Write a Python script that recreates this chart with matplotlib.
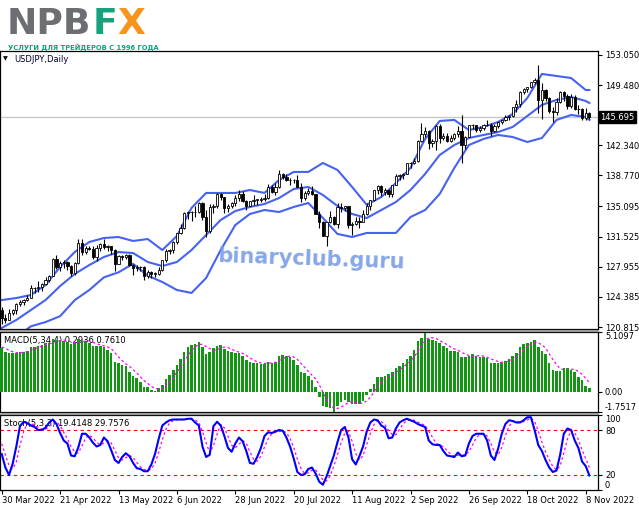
import matplotlib
matplotlib.use("Agg")
import matplotlib.pyplot as plt
from matplotlib.transforms import blended_transform_factory, offset_copy
from matplotlib.lines import Line2D
import numpy as np

# ---------------- data ----------------
opens = [122.8,121.9,121.7,122.5,122.8,123.6,123.8,124.0,124.3,125.4,
         125.4,125.6,125.9,126.4,126.9,128.9,127.9,128.4,128.5,128.1,
         127.2,128.4,130.8,129.7,130.2,130.1,129.1,130.2,130.6,130.3,
         130.4,129.9,128.3,129.2,129.1,129.4,128.2,127.8,127.9,127.9,
         126.9,127.3,127.1,127.1,127.6,128.7,129.8,129.9,130.9,131.9,
         132.6,134.3,134.4,134.4,134.4,135.5,133.9,132.2,135.0,135.1,
         136.6,136.2,134.9,135.2,135.5,136.1,136.6,135.7,135.2,135.7,
         135.9,135.9,136.0,136.1,137.4,136.8,137.4,138.9,138.6,138.2,
         138.2,138.2,137.4,136.1,136.7,136.9,136.6,134.2,133.3,131.6,
         133.2,133.8,133.0,135.0,134.9,135.1,132.9,133.0,133.4,133.3,
         134.2,135.1,135.9,137.0,137.5,136.8,137.1,136.6,137.7,138.7,
         138.8,139.0,140.2,140.2,140.5,142.8,143.7,144.1,142.6,142.8,
         144.6,143.2,143.5,142.9,143.2,143.7,144.1,142.4,143.3,144.7,
         144.8,144.2,144.4,144.7,144.8,144.1,144.6,145.1,145.3,145.7,
         145.8,146.9,147.2,148.7,149.0,149.2,149.9,150.1,147.7,148.9,
         148.0,146.4,146.3,147.5,148.7,148.2,147.0,148.1,146.7,146.6,
         145.6,146.2]
highs = [123.2,122.4,123.0,123.0,123.7,124.0,124.1,124.6,125.8,125.6,
         126.3,126.0,126.7,127.0,129.0,129.4,128.6,128.8,128.6,128.2,
         128.5,131.2,131.3,130.4,130.4,130.4,130.5,130.8,131.3,130.5,
         130.4,130.0,129.4,129.4,129.5,129.5,128.3,128.2,128.0,128.0,
         127.6,127.5,127.3,127.9,128.8,130.1,130.1,131.0,132.0,133.0,
         134.5,134.6,134.6,135.2,135.6,135.6,134.7,135.4,135.4,136.7,
         136.7,136.2,135.4,135.6,136.4,137.0,136.9,135.9,135.8,136.4,
         136.0,136.2,136.6,137.8,137.7,137.9,139.4,139.1,138.9,138.5,
         138.4,138.8,137.9,136.9,137.3,137.5,136.6,134.6,133.4,133.3,
         134.6,134.0,135.5,135.5,135.2,135.2,133.2,133.9,133.8,134.7,
         135.5,135.9,137.0,137.6,137.7,137.3,137.2,137.7,139.0,138.9,
         139.1,140.2,140.4,140.8,143.0,145.0,144.5,144.2,143.1,144.7,
         144.9,143.8,143.8,143.6,143.8,144.6,145.9,143.5,144.8,144.9,
         144.8,144.6,144.9,145.4,145.0,144.9,145.2,145.4,145.9,145.9,
         146.9,147.7,148.8,149.1,149.3,149.9,150.3,151.9,149.7,149.0,
         148.1,146.9,147.9,148.8,148.8,148.4,148.4,148.3,147.1,146.8,
         146.8,146.3]
lows = [121.2,121.3,121.6,122.2,122.4,123.3,123.4,123.9,124.3,124.9,
        125.0,125.1,125.8,126.2,126.9,127.7,127.4,127.8,127.6,126.9,
        127.0,128.3,129.3,129.5,129.9,128.9,128.6,129.8,130.1,129.8,
        129.5,127.5,128.3,128.7,128.9,128.0,127.0,127.5,127.5,126.4,
        126.6,126.6,126.8,127.0,127.4,128.5,129.5,129.6,130.6,131.8,
        132.4,133.6,133.4,133.9,134.3,133.5,131.5,132.0,134.3,134.9,
        135.9,134.3,134.5,134.9,135.2,135.8,135.6,134.7,135.1,135.3,
        135.3,135.6,135.7,136.0,136.7,136.4,137.3,138.4,138.1,137.6,
        137.9,137.4,135.6,135.9,136.4,136.5,134.2,132.5,131.6,130.4,
        133.1,132.9,132.5,134.4,134.6,132.5,131.7,132.9,132.6,133.2,
        134.1,134.7,135.7,136.6,136.3,136.5,136.2,136.2,137.6,138.2,
        138.4,138.9,139.6,140.1,140.4,142.7,143.3,141.9,142.1,141.8,
        142.6,143.0,142.7,142.7,143.0,143.3,140.3,141.9,143.3,144.3,
        143.9,143.9,144.2,144.6,143.5,143.9,144.4,144.9,145.2,145.3,
        145.7,146.3,146.9,148.4,148.7,149.1,149.6,146.2,145.5,147.6,
        146.2,145.1,145.9,147.3,147.6,146.6,146.8,146.5,146.1,145.3,
        145.4,145.5]
closes = [121.9,121.7,122.5,122.8,123.6,123.8,124.0,124.3,125.4,125.4,
          125.6,125.9,126.4,126.9,128.9,127.9,128.4,128.5,128.1,127.2,
          128.4,130.8,129.7,130.2,130.1,129.1,130.2,130.6,130.3,130.4,
          129.9,128.3,129.2,129.1,129.4,128.2,127.8,127.9,127.9,126.9,
          127.3,127.1,127.1,127.6,128.7,129.8,129.9,130.9,131.9,132.6,
          134.3,134.4,134.4,134.4,135.5,133.9,132.2,135.0,135.1,136.6,
          136.2,134.9,135.2,135.5,136.1,136.6,135.7,135.2,135.7,135.9,
          135.9,136.0,136.1,137.4,136.8,137.4,138.9,138.6,138.2,138.2,
          138.2,137.4,136.1,136.7,136.9,136.6,134.2,133.3,131.6,133.2,
          133.8,133.0,135.0,134.9,135.1,132.9,133.0,133.4,133.3,134.2,
          135.1,135.9,137.0,137.5,136.8,137.1,136.6,137.7,138.7,138.8,
          139.0,140.2,140.2,140.5,142.8,143.7,144.1,142.6,142.8,144.6,
          143.2,143.5,142.9,143.2,143.7,144.1,142.4,143.3,144.7,144.8,
          144.2,144.4,144.7,144.8,144.1,144.6,145.1,145.3,145.7,145.8,
          146.9,147.2,148.7,149.0,149.2,149.9,150.1,147.7,148.9,148.0,
          146.4,146.3,147.5,148.7,148.2,147.0,148.1,146.7,146.6,145.6,
          146.2,145.695]

bb_index = [0,4,8,12,16,20,24,28,32,36,40,44,48,52,56,60,64,68,72,76,80,
            84,88,92,96,100,104,108,112,116,120,124,128,132,136,140,144,148,
            152,156,160,161]
bb_upper = [124.01,124.25,124.61,125.79,127.93,129.70,130.89,131.36,131.48,131.01,
            131.24,129.94,131.60,134.92,136.70,136.70,136.70,137.05,136.70,138.24,
            139.19,139.19,140.25,139.42,137.41,135.30,136.22,137.88,139.66,143.10,
            145.23,145.35,144.16,144.52,145.11,146.06,147.95,150.80,150.56,150.32,
            148.90,148.90]
bb_middle = [120.70,121.65,122.83,124.01,125.67,127.10,128.16,129.11,129.70,129.58,
             128.52,128.04,128.52,129.94,131.72,133.50,134.56,135.04,135.39,136.10,
             137.17,137.41,136.46,135.15,134.21,133.73,134.68,135.63,137.05,138.95,
             141.20,142.38,143.21,143.57,143.92,144.52,145.82,147.13,147.72,148.07,
             147.60,147.36]
bb_lower = [118.68,119.63,120.90,121.40,122.10,124.00,125.20,126.70,127.30,128.30,
            126.90,126.15,125.20,124.85,126.62,129.94,132.90,134.21,134.68,134.44,
            135.04,135.51,133.73,131.84,131.48,131.96,131.96,131.96,133.85,134.68,
            136.58,139.66,142.38,143.10,143.57,143.33,142.74,143.21,145.35,145.94,
            145.70,145.35]

macd_main = [3.71,3.42,3.28,3.28,3.34,3.42,3.42,3.51,3.85,3.85,
             3.91,4.00,4.14,4.20,4.49,4.43,4.37,4.37,4.28,4.08,
             4.14,4.49,4.37,4.37,4.20,3.94,3.94,3.94,3.85,3.57,
             3.34,2.57,2.43,2.28,2.20,1.71,1.34,1.14,0.86,0.43,
             0.37,0.14,0.09,0.29,0.57,1.06,1.43,1.86,2.28,2.77,
             3.42,3.85,4.00,4.08,4.28,3.85,3.22,3.42,3.71,3.91,
             4.00,3.62,3.51,3.42,3.34,3.28,3.05,2.71,2.57,2.48,
             2.43,2.37,2.37,2.57,2.48,2.57,3.05,3.14,3.05,2.94,
             2.71,2.28,1.71,1.57,1.34,1.00,0.43,-0.44,-1.24,-1.35,
             -1.44,-1.75,-1.24,-0.86,-0.71,-0.86,-1.06,-1.06,-1.06,-0.77,
             -0.29,0.20,0.66,1.23,1.29,1.34,1.52,1.72,2.00,2.20,
             2.48,2.77,3.05,3.57,4.37,4.57,5.00,4.49,4.43,4.37,
             4.14,3.91,3.71,3.51,3.51,3.42,3.00,2.94,3.05,3.22,
             3.05,2.94,2.94,2.86,2.48,2.48,2.48,2.57,2.66,2.77,
             3.05,3.34,3.85,4.08,4.20,4.28,4.43,3.80,3.51,3.22,
             2.43,1.86,1.80,1.80,2.00,2.00,1.86,1.72,1.29,1.00,
             0.49,0.2936]
macd_signal = [3.82,3.70,3.55,3.42,3.33,3.33,3.37,3.42,3.55,3.66,
               3.78,3.90,3.98,4.06,4.21,4.32,4.37,4.42,4.36,4.28,
               4.22,4.25,4.27,4.34,4.36,4.22,4.11,4.00,3.92,3.83,
               3.68,3.33,2.98,2.66,2.37,2.16,1.88,1.60,1.26,0.94,
               0.70,0.45,0.26,0.22,0.27,0.50,0.84,1.23,1.66,2.09,
               2.58,3.08,3.51,3.84,4.05,4.05,3.86,3.69,3.55,3.57,
               3.76,3.81,3.76,3.64,3.47,3.39,3.27,3.10,2.90,2.70,
               2.55,2.46,2.41,2.44,2.45,2.50,2.67,2.81,2.95,3.05,
               2.96,2.75,2.41,2.07,1.73,1.41,1.09,0.58,-0.06,-0.65,
               -1.12,-1.45,-1.45,-1.32,-1.14,-0.92,-0.87,-0.92,-1.01,-0.99,
               -0.80,-0.48,-0.05,0.45,0.85,1.13,1.35,1.47,1.65,1.86,
               2.10,2.36,2.63,2.97,3.44,3.89,4.38,4.61,4.62,4.57,
               4.36,4.21,4.03,3.82,3.66,3.54,3.36,3.22,3.10,3.05,
               3.07,3.07,3.04,2.95,2.81,2.69,2.58,2.50,2.55,2.62,
               2.76,2.96,3.25,3.58,3.87,4.10,4.25,4.18,4.01,3.74,
               3.24,2.76,2.33,1.97,1.87,1.90,1.92,1.90,1.72,1.47,
               1.13,0.7610]

stoch_main = [48,30,20,35,58,85,91,89,86,84,
              80,80,83,90,94,88,76,66,62,46,
              45,57,75,75,70,63,58,60,70,65,
              53,40,36,44,49,45,36,29,28,25,
              25,34,48,68,86,90,93,94,94,94,
              94,95,95,90,86,58,44,47,85,91,
              86,72,56,51,62,70,65,52,36,35,
              44,56,72,77,76,78,80,79,70,58,
              42,24,20,21,28,30,22,11,7,18,
              32,46,64,80,84,70,41,34,45,58,
              78,90,94,93,86,83,69,70,82,90,
              93,95,93,91,88,86,84,66,61,60,
              60,52,46,45,44,50,45,46,62,72,
              75,75,75,66,46,40,55,75,88,93,
              92,90,90,93,97,97,80,60,52,40,
              30,24,26,47,75,82,80,66,56,38,
              31.9,19.4148]
stoch_signal = [61.7,46.7,32.7,28.3,37.7,59.3,78.0,88.3,88.7,86.3,
                83.3,81.3,81.0,84.3,89.0,90.7,86.0,76.7,68.0,58.0,
                51.0,49.3,59.0,69.0,73.3,69.3,63.7,60.3,62.7,65.0,
                62.7,52.7,43.0,40.0,43.0,46.0,43.3,36.7,31.0,27.3,
                26.0,28.0,35.7,50.0,67.3,81.3,89.7,92.3,93.7,94.0,
                94.0,94.3,94.7,93.3,90.3,78.0,62.7,49.7,58.7,74.3,
                87.3,83.0,71.3,59.7,56.3,61.0,65.7,62.3,51.0,41.0,
                38.3,45.0,57.3,68.3,75.0,77.0,78.0,79.0,76.3,69.0,
                56.7,41.3,28.7,21.7,23.0,26.3,26.7,21.0,13.3,12.0,
                19.0,32.0,47.3,63.3,76.0,78.0,65.0,48.3,40.0,45.7,
                60.3,75.3,87.3,92.3,91.0,87.3,79.3,74.0,73.7,80.7,
                88.3,92.7,93.7,93.0,90.7,88.3,86.0,78.7,70.3,62.3,
                60.3,57.3,52.7,47.7,45.0,46.3,46.3,47.0,51.0,60.0,
                69.7,74.0,75.0,72.0,62.3,50.7,47.0,56.7,72.7,85.3,
                91.0,91.7,90.7,91.0,93.3,95.7,91.3,79.0,64.0,50.7,
                40.7,31.3,26.7,32.3,49.3,68.0,79.0,76.0,67.3,53.3,
                42.0,29.7576]

date_ticks = [0,16,32,48,64,80,96,112,128,144,160]
date_labels = ["30 Mar 2022","21 Apr 2022","13 May 2022","6 Jun 2022","28 Jun 2022",
               "20 Jul 2022","11 Aug 2022","2 Sep 2022","26 Sep 2022","18 Oct 2022",
               "8 Nov 2022"]
price_ticks = [153.050,149.480,142.340,138.770,135.095,131.525,127.955,124.385,120.815]
price_labels = ["153.050","149.480","142.340","138.770","135.095","131.525",
                "127.955","124.385","120.815"]
last_price = 145.695
macd_ticks = [5.1097, 0.0, -1.7517]
macd_labels = ["5.1097", "0.00", "-1.7517"]
stoch_ticks = [100, 80, 20, 0]
stoch_labels = ["100", "80", "20", "0"]

# ---------------- figure ----------------
W, H = 639, 508
fig = plt.figure(figsize=(W / 100, H / 100), dpi=100)
fig.patch.set_facecolor("white")
FS = 6


def rect(top, bottom, left=0, right=598):
    return [left / W, 1 - bottom / H, (right - left) / W, (bottom - top) / H]


ax1 = fig.add_axes(rect(51, 329))
ax2 = fig.add_axes(rect(332, 412))
ax3 = fig.add_axes(rect(415, 490))

x = np.arange(len(closes))
xlim = (-0.47, 163.37)

for ax in (ax1, ax2, ax3):
    ax.set_xlim(*xlim)
    ax.set_facecolor("white")
    ax.yaxis.tick_right()
    ax.tick_params(axis="y", length=3, width=0.8, direction="out", pad=2,
                   labelsize=FS, colors="black")
    for s in ax.spines.values():
        s.set_color("black")
        s.set_linewidth(0.9)
for ax in (ax1, ax2):
    ax.set_xticks([])

# separators between panels
for yy in (330.5, 413.5):
    fig.add_artist(Line2D([0, 598 / W], [1 - yy / H, 1 - yy / H],
                          color="#9a9a9a", lw=1.6, transform=fig.transFigure))

# ---- price panel ----
o = np.array(opens); h = np.array(highs); l = np.array(lows); c = np.array(closes)
up = c >= o
ax1.axhline(last_price, color="#c8c8c8", lw=1.0, zorder=1)
ax1.vlines(x, l, h, color="black", lw=0.8, zorder=3)
bot = np.minimum(o, c)
hgt = np.maximum(np.abs(c - o), 0.06)
ax1.bar(x[up], hgt[up], bottom=bot[up], width=0.62, facecolor="white",
        edgecolor="black", lw=0.6, zorder=4)
ax1.bar(x[~up], hgt[~up], bottom=bot[~up], width=0.62, facecolor="black",
        edgecolor="black", lw=0.6, zorder=4)
band_col = "#4662f2"
ax1.plot(bb_index, bb_upper, color=band_col, lw=1.5, zorder=2)
ax1.plot(bb_index, bb_middle, color=band_col, lw=1.5, zorder=2)
ax1.plot(bb_index, bb_lower, color=band_col, lw=1.5, zorder=2)
ax1.set_ylim(120.58, 153.52)
ax1.set_yticks(price_ticks, price_labels)

tr = blended_transform_factory(ax1.transAxes, ax1.transData)
ax1.text(1.0, last_price, "145.695", transform=offset_copy(tr, fig=fig, x=2.5, y=0, units="dots"),
         ha="left", va="center", fontsize=FS, color="white", clip_on=False, zorder=10,
         bbox=dict(boxstyle="square,pad=0.2", fc="black", ec="black"))

fig.text(3 / W, 1 - 59 / H, "\u25bc", fontsize=4.5, color="black", va="center")
fig.text(14 / W, 1 - 59 / H, "USDJPY,Daily", fontsize=FS, color="#00003a", va="center")

# ---- MACD panel ----
ax2.bar(x, macd_main, width=0.7, color="#139613", edgecolor="none", zorder=3)
ax2.plot(x, macd_signal, color="#ff00ff", lw=0.9, ls=(0, (2, 2)), zorder=4)
ax2.set_ylim(-1.7517, 5.1097)
ax2.set_yticks(macd_ticks, macd_labels)
labs = ax2.get_yticklabels()
labs[0].set_va("top")
labs[-1].set_va("bottom")
ax2.text(4 / 598, 0.9, "MACD(5,34,4) 0.2936 0.7610", transform=ax2.transAxes,
         fontsize=FS, va="center", ha="left", color="black", zorder=2)

# ---- Stochastic panel ----
ax3.axhline(80, color="#ff0000", lw=0.8, ls=(0, (3, 3)), zorder=1)
ax3.axhline(20, color="#ff0000", lw=0.8, ls=(0, (3, 3)), zorder=1)
ax3.plot(x, stoch_signal, color="#ff00ff", lw=0.9, ls=(0, (2, 2)), zorder=3)
ax3.plot(x, stoch_main, color="#0000ff", lw=1.5, zorder=4)
ax3.set_ylim(0, 100)
ax3.set_yticks(stoch_ticks, stoch_labels)
labs = ax3.get_yticklabels()
labs[0].set_va("top")
labs[-1].set_va("bottom")
ax3.text(4 / 598, 0.893, "Stoch(5,3,3) 19.4148 29.7576", transform=ax3.transAxes,
         fontsize=FS, va="center", ha="left", color="black", zorder=2)
ax3.set_xticks(date_ticks, date_labels)
ax3.tick_params(axis="x", length=3, width=0.8, direction="out", pad=1.5,
                labelsize=FS, colors="black")
for t in ax3.get_xticklabels():
    t.set_ha("left")

# ---- watermark ----
fig.text(311 / W, 1 - 259 / H, "binaryclub.guru", fontsize=15, fontweight="bold",
         color="#7b9de3", alpha=0.9, ha="center", va="center", rotation=-2, zorder=20)

# ---- logo ----
fig.text(7 / W, 1 - 33.5 / H, "NPB", fontsize=26, fontweight="bold", color="#6d6e71",
         va="baseline", ha="left")
fig.text(93 / W, 1 - 33.5 / H, "F", fontsize=26, fontweight="bold", color="#16a27c",
         va="baseline", ha="left")
fig.text(117 / W, 1 - 33.5 / H, "X", fontsize=26, fontweight="bold", color="#f7941d",
         va="baseline", ha="left")
fig.text(8 / W, 1 - 49.5 / H, "УСЛУГИ ДЛЯ ТРЕЙДЕРОВ С 1996 ГОДА", fontsize=5.4,
         fontweight="bold", fontstretch="condensed", color="#13a07a",
         va="baseline", ha="left")

fig.savefig("out.png", dpi=100, facecolor="white")
